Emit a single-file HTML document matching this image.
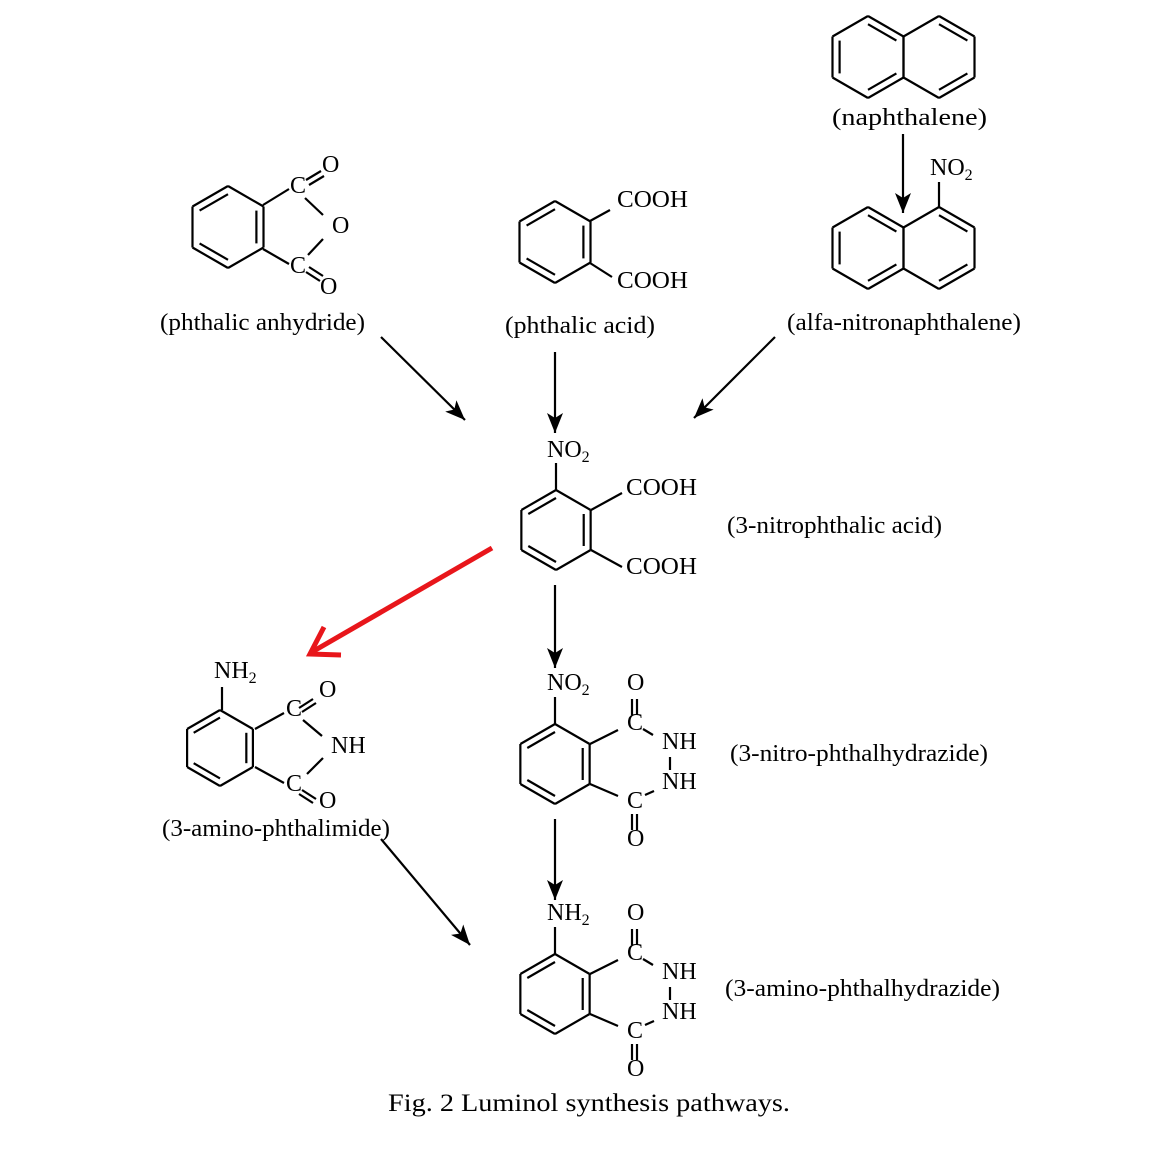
<!DOCTYPE html>
<html><head><meta charset="utf-8"><style>
html,body{margin:0;padding:0;background:#fff;}
svg{display:block;}
text{font-family:"Liberation Serif","Times New Roman",serif;font-size:24px;fill:#000;}
.s{font-size:16px;}
</style></head><body>
<svg id="sv" width="1159" height="1163" viewBox="0 0 1159 1163" xmlns="http://www.w3.org/2000/svg">
<defs>
<marker id="ah" markerWidth="22" markerHeight="16" refX="20" refY="8" orient="auto" markerUnits="userSpaceOnUse">
<path d="M0,0 L20,8 L0,16 L5,8 Z" fill="#000"/>
</marker>
</defs>
<g id="rings" stroke="#000" stroke-width="2.2" fill="none"></g>
<g stroke="#000" stroke-width="2.2" fill="none">
<line x1="263" y1="205" x2="289" y2="189"/>
<line x1="305" y1="198" x2="323" y2="215"/>
<line x1="323" y1="239" x2="308" y2="255"/>
<line x1="263" y1="249" x2="289" y2="264"/>
<line x1="306" y1="180" x2="321" y2="171"/><line x1="309" y1="185" x2="324" y2="176"/>
<line x1="306" y1="272" x2="320" y2="281"/><line x1="309" y1="267" x2="323" y2="276"/>
<line x1="590" y1="221" x2="610" y2="210"/>
<line x1="590" y1="263" x2="612" y2="277"/>
<line x1="556" y1="463" x2="556" y2="490"/>
<line x1="591" y1="510" x2="622" y2="493"/>
<line x1="591" y1="550" x2="622" y2="567"/>
<line x1="222" y1="687" x2="222" y2="710"/>
<line x1="255" y1="729" x2="284" y2="713"/>
<line x1="303" y1="720" x2="322" y2="736"/>
<line x1="323" y1="758" x2="307" y2="774"/>
<line x1="255" y1="767" x2="284" y2="783"/>
<line x1="299" y1="708" x2="313" y2="699"/><line x1="302" y1="712" x2="316" y2="703"/>
<line x1="299" y1="794" x2="313" y2="803"/><line x1="302" y1="790" x2="316" y2="799"/>
<line x1="555" y1="697" x2="555" y2="724"/>
<line x1="590" y1="744" x2="618" y2="730"/>
<line x1="643" y1="729" x2="653" y2="735"/>
<line x1="670" y1="757" x2="670" y2="770"/>
<line x1="645" y1="795" x2="654" y2="791"/>
<line x1="590" y1="784" x2="618" y2="796"/>
<line x1="632" y1="699" x2="632" y2="715"/><line x1="637" y1="699" x2="637" y2="715"/>
<line x1="632" y1="814" x2="632" y2="830"/><line x1="637" y1="814" x2="637" y2="830"/>
<line x1="555" y1="927" x2="555" y2="954"/>
<line x1="590" y1="974" x2="618" y2="960"/>
<line x1="643" y1="959" x2="653" y2="965"/>
<line x1="670" y1="987" x2="670" y2="1000"/>
<line x1="645" y1="1025" x2="654" y2="1021"/>
<line x1="590" y1="1014" x2="618" y2="1026"/>
<line x1="632" y1="929" x2="632" y2="945"/><line x1="637" y1="929" x2="637" y2="945"/>
<line x1="632" y1="1044" x2="632" y2="1060"/><line x1="637" y1="1044" x2="637" y2="1060"/>
<line x1="939" y1="182" x2="939" y2="207"/>
<line x1="903" y1="134" x2="903" y2="213" marker-end="url(#ah)"/>
<line x1="381" y1="337" x2="465" y2="420" marker-end="url(#ah)"/>
<line x1="555" y1="352" x2="555" y2="433" marker-end="url(#ah)"/>
<line x1="775" y1="337" x2="694" y2="418" marker-end="url(#ah)"/>
<line x1="555" y1="585" x2="555" y2="668" marker-end="url(#ah)"/>
<line x1="555" y1="819" x2="555" y2="900" marker-end="url(#ah)"/>
<line x1="381" y1="839" x2="470" y2="945" marker-end="url(#ah)"/>
</g>
<g stroke="#e8161b" stroke-width="5" fill="none" stroke-linecap="butt">
<line x1="492" y1="548" x2="312" y2="652"/>
<polyline points="324,627 310,654 341,655"/>
</g>
<text x="290" y="193">C</text><text x="322" y="172">O</text><text x="332" y="233">O</text>
<text x="290" y="273">C</text><text x="320" y="294">O</text>
<text x="160" y="330" textLength="205" lengthAdjust="spacingAndGlyphs">(phthalic anhydride)</text>
<text x="617" y="207" textLength="71" lengthAdjust="spacingAndGlyphs">COOH</text><text x="617" y="288" textLength="71" lengthAdjust="spacingAndGlyphs">COOH</text>
<text x="505" y="333" textLength="150" lengthAdjust="spacingAndGlyphs">(phthalic acid)</text>
<text x="832" y="125" textLength="155" lengthAdjust="spacingAndGlyphs">(naphthalene)</text>
<text x="930" y="175">NO<tspan class="s" dy="5">2</tspan></text>
<text x="787" y="330" textLength="234" lengthAdjust="spacingAndGlyphs">(alfa-nitronaphthalene)</text>
<text x="547" y="457">NO<tspan class="s" dy="5">2</tspan></text>
<text x="626" y="495" textLength="71" lengthAdjust="spacingAndGlyphs">COOH</text><text x="626" y="574" textLength="71" lengthAdjust="spacingAndGlyphs">COOH</text>
<text x="727" y="533" textLength="215" lengthAdjust="spacingAndGlyphs">(3-nitrophthalic acid)</text>
<text x="214" y="678">NH<tspan class="s" dy="5">2</tspan></text>
<text x="286" y="716">C</text><text x="319" y="697">O</text><text x="331" y="753">NH</text>
<text x="286" y="791">C</text><text x="319" y="808">O</text>
<text x="162" y="836" textLength="228" lengthAdjust="spacingAndGlyphs">(3-amino-phthalimide)</text>
<text x="547" y="690">NO<tspan class="s" dy="5">2</tspan></text>
<text x="627" y="690">O</text><text x="627" y="730">C</text><text x="662" y="749">NH</text>
<text x="662" y="789">NH</text><text x="627" y="808">C</text><text x="627" y="846">O</text>
<text x="730" y="761" textLength="258" lengthAdjust="spacingAndGlyphs">(3-nitro-phthalhydrazide)</text>
<text x="547" y="920">NH<tspan class="s" dy="5">2</tspan></text>
<text x="627" y="920">O</text><text x="627" y="960">C</text><text x="662" y="979">NH</text>
<text x="662" y="1019">NH</text><text x="627" y="1038">C</text><text x="627" y="1076">O</text>
<text x="725" y="996" textLength="275" lengthAdjust="spacingAndGlyphs">(3-amino-phthalhydrazide)</text>
<text x="388" y="1111" textLength="402" lengthAdjust="spacingAndGlyphs" style="font-size:25px">Fig. 2 Luminol synthesis pathways.</text>
</svg>
<script>
(function(){
var g=document.getElementById('rings');var ns='http://www.w3.org/2000/svg';
function ln(a,b){var l=document.createElementNS(ns,'line');l.setAttribute('x1',a[0]);l.setAttribute('y1',a[1]);l.setAttribute('x2',b[0]);l.setAttribute('y2',b[1]);g.appendChild(l);}
function ring(cx,cy,r,dbl){var h=r*0.866,p=[[cx,cy-r],[cx+h,cy-r/2],[cx+h,cy+r/2],[cx,cy+r],[cx-h,cy+r/2],[cx-h,cy-r/2]];
for(var i=0;i<6;i++)ln(p[i],p[(i+1)%6]);
dbl.forEach(function(e){var a=p[e[0]],b=p[e[1]],k=0.8;ln([cx+k*(a[0]-cx),cy+k*(a[1]-cy)],[cx+k*(b[0]-cx),cy+k*(b[1]-cy)]);});}
var std=[[5,0],[3,4],[1,2]];
ring(228,227,41,std);ring(555,242,41,std);ring(556,530,40,std);ring(220,748,38,std);ring(555,764,40,std);ring(555,994,40,std);
var nl=[[4,5],[0,1],[2,3]],nr=[[0,1],[2,3]];
ring(868,57,41,nl);ring(939,57,41,nr);ring(868,248,41,nl);ring(939,248,41,nr);
})();
</script>
</body></html>
